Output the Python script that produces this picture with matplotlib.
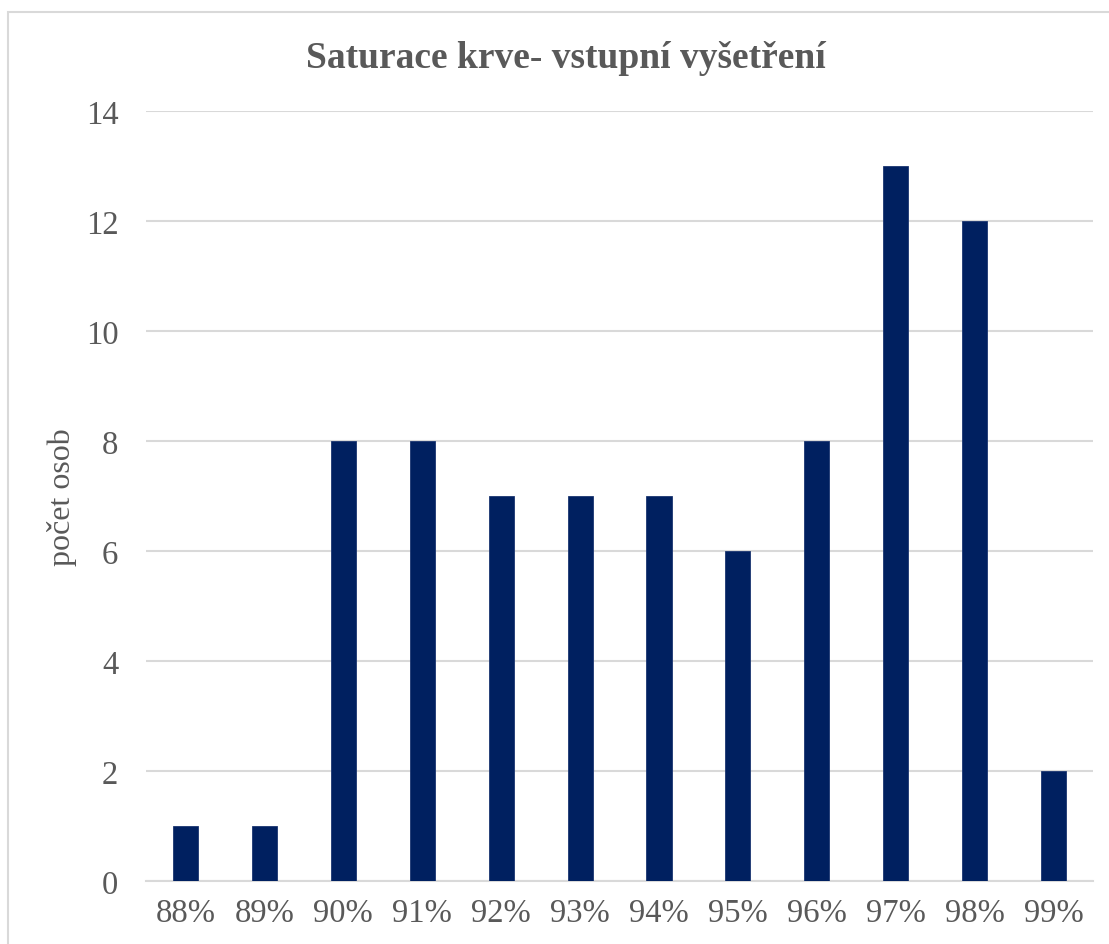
import matplotlib.pyplot as plt
from matplotlib.patches import Rectangle

kategorie = ['88%', '89%', '90%', '91%', '92%', '93%', '94%', '95%', '96%', '97%', '98%', '99%']
pocet = [1, 1, 8, 8, 7, 7, 7, 6, 8, 13, 12, 2]
y_ticks = [0, 2, 4, 6, 8, 10, 12, 14]

plt.rcParams['font.family'] = ['Liberation Serif', 'DejaVu Serif']
seda = '#595959'

fig = plt.figure(figsize=(11.09, 9.45), dpi=100)
ax = fig.add_axes([0.1317, 0.0667, 0.8539, 0.8148])

x = range(len(kategorie))
ax.bar(x, pocet, width=0.317, color='#002060', edgecolor='#1a3570', linewidth=0.6, zorder=3)

ax.set_xlim(-0.5, len(kategorie) - 0.5)
ax.set_ylim(0, 14)
ax.set_yticks(y_ticks)
ax.set_xticks(list(x))
ax.set_xticklabels(kategorie)
ax.tick_params(axis='both', length=0, labelsize=23.5, colors=seda)
ax.tick_params(axis='y', pad=20)
ax.tick_params(axis='x', pad=12)
ax.grid(axis='y', color='#D9D9D9', linewidth=1.5, zorder=0)
for s in ['top', 'right', 'left']:
    ax.spines[s].set_visible(False)
ax.spines['bottom'].set_color('#D9D9D9')
ax.spines['bottom'].set_linewidth(1.5)

ax.set_ylabel('počet osob', fontsize=23, color=seda, labelpad=6)
fig.text(0.51, 0.938, 'Saturace krve- vstupní vyšetření', ha='center', va='center',
         fontsize=27, fontweight='bold', color=seda)

# ramecek grafu
fig.patches.append(Rectangle((8 / 1109, -0.1), 1.2, (945 - 13) / 945 + 0.1, transform=fig.transFigure,
                             fill=False, edgecolor='#D9D9D9', linewidth=1.5))

fig.savefig('out.png', dpi=100)
